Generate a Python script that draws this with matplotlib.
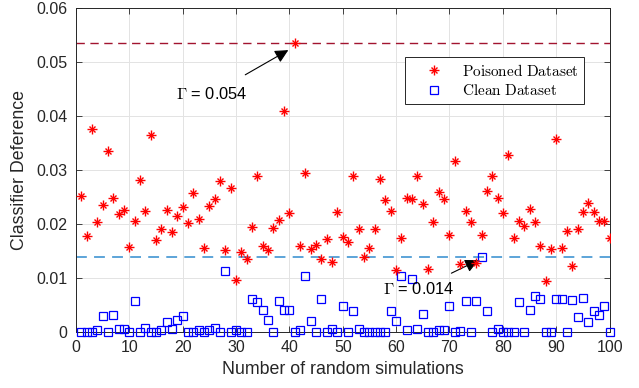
import matplotlib
matplotlib.use("Agg")
import matplotlib.pyplot as plt
from matplotlib.legend_handler import HandlerTuple

# --- Data ---
runs = list(range(1, 101))

poisoned = [
    0.0252, 0.0178, 0.0376, 0.0204, 0.0235, 0.0336, 0.0249, 0.0218, 0.0226, 0.0157,
    0.0206, 0.0282, 0.0224, 0.0364, 0.0170, 0.0190, 0.0226, 0.0186, 0.0215, 0.0232,
    0.0201, 0.0258, 0.0209, 0.0156, 0.0233, 0.0247, 0.0279, 0.0152, 0.0267, 0.0096,
    0.0149, 0.0135, 0.0194, 0.0288, 0.0160, 0.0152, 0.0193, 0.0207, 0.0409, 0.0220,
    0.0536, 0.0160, 0.0294, 0.0154, 0.0162, 0.0135, 0.0173, 0.0130, 0.0222, 0.0176,
    0.0167, 0.0288, 0.0191, 0.0139, 0.0155, 0.0191, 0.0283, 0.0244, 0.0225, 0.0114,
    0.0175, 0.0248, 0.0246, 0.0288, 0.0237, 0.0117, 0.0204, 0.0259, 0.0247, 0.0180,
    0.0316, 0.0126, 0.0224, 0.0204, 0.0128, 0.0180, 0.0262, 0.0289, 0.0248, 0.0220,
    0.0327, 0.0175, 0.0205, 0.0196, 0.0227, 0.0204, 0.0159, 0.0095, 0.0153, 0.0357,
    0.0156, 0.0187, 0.0122, 0.0191, 0.0222, 0.0238, 0.0223, 0.0206, 0.0206, 0.0175,
]

clean = [
    0.0, 0.0, 0.0, 0.0003, 0.0030, 0.0, 0.0031, 0.0005, 0.0006, 0.0,
    0.0057, 0.0, 0.0007, 0.0, 0.0, 0.0004, 0.0018, 0.0005, 0.0022, 0.0029,
    0.0, 0.0, 0.0003, 0.0, 0.0003, 0.0007, 0.0, 0.0113, 0.0, 0.0003,
    0.0, 0.0, 0.0061, 0.0056, 0.0040, 0.0022, 0.0, 0.0057, 0.0040, 0.0040,
    0.0, 0.0003, 0.0104, 0.0020, 0.0, 0.0062, 0.0, 0.0005, 0.0, 0.0049,
    0.0, 0.0038, 0.0005, 0.0, 0.0, 0.0, 0.0, 0.0, 0.0038, 0.0020,
    0.0104, 0.0003, 0.0099, 0.0005, 0.0033, 0.0, 0.0, 0.0003, 0.0003, 0.0049,
    0.0, 0.0002, 0.0057, 0.0, 0.0057, 0.0139, 0.0039, 0.0, 0.0006, 0.0,
    0.0, 0.0, 0.0056, 0.0, 0.0040, 0.0067, 0.0061, 0.0, 0.0, 0.0062,
    0.0062, 0.0, 0.0060, 0.0028, 0.0063, 0.0019, 0.0038, 0.0031, 0.0049, 0.0,
]

max_poisoned = 0.054
max_clean = 0.014
x_ticks = list(range(0, 101, 10))
y_ticks = [0, 0.01, 0.02, 0.03, 0.04, 0.05, 0.06]
y_tick_labels = ["0", "0.01", "0.02", "0.03", "0.04", "0.05", "0.06"]

# --- Style ---
plt.rcParams["font.family"] = ["Liberation Sans", "DejaVu Sans"]
plt.rcParams["mathtext.fontset"] = "cm"
axis_grey = "#262626"

fig = plt.figure(figsize=(6.39, 3.88), dpi=100)
ax = fig.add_axes([0.1188, 0.1443, 0.8352, 0.8351])

# threshold lines
ax.axhline(max(poisoned), color="#A2142F", ls=(0, (6, 4)), lw=1.0, zorder=2)
ax.axhline(max(clean), color="#4F9DD6", ls=(0, (6, 4)), lw=1.3, zorder=2)

# poisoned: MATLAB style asterisk = plus + cross
p1, = ax.plot(runs, poisoned, ls="none", marker="+", ms=7, mew=1.0, color="red", zorder=4)
p2, = ax.plot(runs, poisoned, ls="none", marker="x", ms=5, mew=1.0, color="red", zorder=4)
sq, = ax.plot(runs, clean, ls="none", marker="s", ms=5.5, mew=0.9, mfc="none", mec="blue",
              zorder=3, clip_on=False)

ax.set_xlim(0, 100)
ax.set_ylim(0, 0.06)
ax.set_xticks(x_ticks)
ax.set_yticks(y_ticks)
ax.set_yticklabels(y_tick_labels)
ax.tick_params(direction="in", length=4, width=0.6, colors=axis_grey, labelsize=11.5,
               top=True, right=True, labelcolor=axis_grey, pad=6)
for s in ax.spines.values():
    s.set_color(axis_grey)
    s.set_linewidth(0.7)
ax.grid(True, color="#E3E3E3", lw=0.7)
ax.set_axisbelow(True)

ax.set_xlabel("Number of random simulations", fontsize=12.8, color=axis_grey, labelpad=4)
ax.set_ylabel("Classifier Deference", fontsize=12.8, color=axis_grey, labelpad=6)

# annotations
ax.annotate(r"$\Gamma$ = %.3f" % max_poisoned, xy=(39.8, 0.0522), xytext=(25.5, 0.0441),
            fontsize=11.8, ha="center", va="center",
            arrowprops=dict(arrowstyle="-|>", color="k", lw=0.8, mutation_scale=20,
                            shrinkA=12, shrinkB=0))
ax.annotate(r"$\Gamma$ = %.3f" % max_clean, xy=(75.4, 0.0133), xytext=(64.3, 0.0080),
            fontsize=11.8, ha="center", va="center",
            arrowprops=dict(arrowstyle="-|>", color="k", lw=0.8, mutation_scale=20,
                            shrinkA=8, shrinkB=0))

leg = ax.legend([(p1, p2), sq],
                [r"$\mathrm{Poisoned\ Dataset}$", r"$\mathrm{Clean\ Dataset}$"],
                handler_map={tuple: HandlerTuple(ndivide=1)}, numpoints=1,
                loc="upper right", bbox_to_anchor=(0.952, 0.848), borderaxespad=0,
                fontsize=11, fancybox=False, framealpha=1, edgecolor="#262626",
                borderpad=0.35, handlelength=3.0, handletextpad=0.35, labelspacing=0.3)
leg.get_frame().set_linewidth(0.7)

fig.savefig("out.png", dpi=100)
